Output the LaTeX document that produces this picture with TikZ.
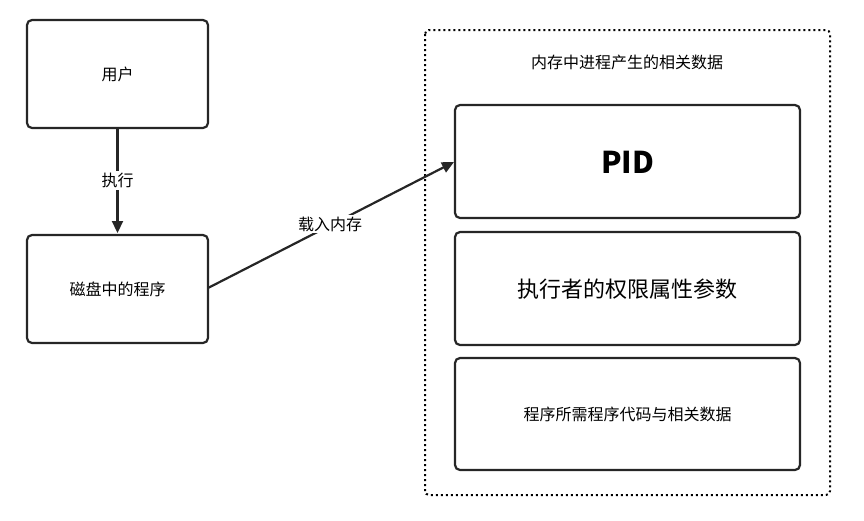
\documentclass[tikz,border=0pt]{standalone}
\usepackage{fontspec}
\setmainfont{Noto Sans CJK SC}
\usetikzlibrary{arrows.meta}
\begin{document}
\begin{tikzpicture}[x=1pt,y=-1pt,
  box/.style={draw=black!85,line width=2.2pt,rounded corners=5pt,fill=white},
  arr/.style={draw=black!85,line width=2.2pt,-{Triangle[length=12pt,width=11pt]}},
  lbl/.style={font=\fontsize{16}{19}\selectfont,fill=white,inner sep=2pt}]
\useasboundingbox (0,0) rectangle (864,520);
\draw[line width=2pt,dash pattern=on 2pt off 3pt,rounded corners=4pt] (425,30) rectangle (830,495);
\node[font=\fontsize{16}{19}\selectfont] (t) at (627,62) {内存中进程产生的相关数据};
\draw[box] (27,20) rectangle (208,128); \node[font=\fontsize{16}{19}\selectfont] (u) at (117.5,74) {用户};
\draw[box] (27,235) rectangle (208,343); \node[font=\fontsize{16}{19}\selectfont] (d) at (117.5,289) {磁盘中的程序};
\draw[box] (455,105) rectangle (800,218); \node[font=\fontsize{30}{34}\selectfont\bfseries] (p) at (627.5,162) {PID};
\draw[box] (455,232) rectangle (800,345); \node[font=\fontsize{22}{26}\selectfont] (e) at (627.5,289) {执行者的权限属性参数};
\draw[box] (455,358) rectangle (800,470); \node[font=\fontsize{16}{20}\selectfont] (c) at (627.5,414) {程序所需程序代码与相关数据};
\coordinate (a1) at (117.5,128); \coordinate (a2) at (117.5,233);
\draw[arr] (a1) -- node[lbl] {执行} (a2);
\coordinate (b1) at (208,288); \coordinate (b2) at (454,162);
\draw[arr] (b1) -- (b2);
\node[lbl] (l) at (330,224) {载入内存};
\end{tikzpicture}
\end{document}
